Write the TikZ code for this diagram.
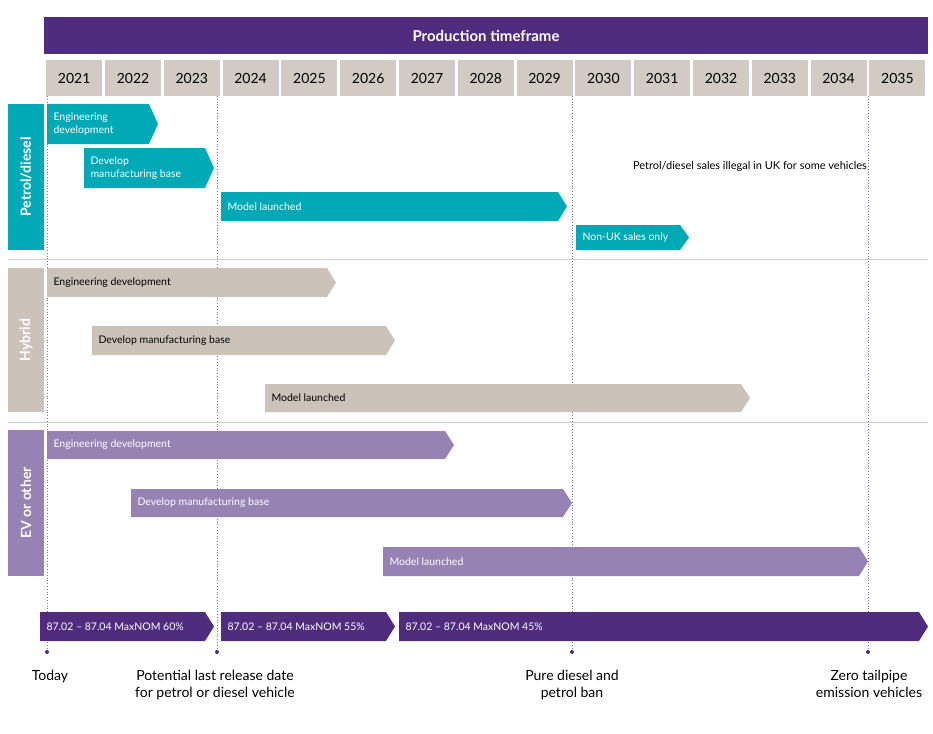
\documentclass[tikz,border=0pt]{standalone}
\usepackage{fontspec}
\setmainfont{Lato}
\definecolor{dpurp}{HTML}{4F2C7E}
\definecolor{teal}{HTML}{00A9B5}
\definecolor{warm}{HTML}{CBC3BA}
\definecolor{lav}{HTML}{9683B3}
\definecolor{yr}{HTML}{D2CBC4}
\newcommand\tlbar[8]{%
  \fill[#5] (#1,#3) -- (#2-9,#3) -- (#2,{(#3+#4)/2}) -- (#2-9,#4) -- (#1,#4) -- cycle;
  \node[small,text=#7,anchor=west,align=left] (#8) at (#1+3,{(#3+#4)/2}) {#6};}
\begin{document}
\begin{tikzpicture}[x=1pt,y=-1pt,
  small/.style={font=\fontsize{10.5}{12.5}\selectfont},
  yrbox/.style={fill=yr,minimum width=56pt,minimum height=36pt,anchor=north west,inner sep=0pt,font=\fontsize{14}{16}\selectfont},
  rowlab/.style={rotate=90,text=white,font=\fontsize{14}{16}\selectfont\bfseries},
  bot/.style={align=center,font=\fontsize{14}{17}\selectfont},
  dl/.style={dotted,dpurp!70,line width=0.8pt}]
\useasboundingbox (0,0) rectangle (933,733);
\fill[dpurp] (44,17) rectangle (928,54);
\node[text=white,font=\fontsize{15}{17}\selectfont\bfseries] (hdr) at (486,36) {Production timeframe};
\foreach \y [count=\i from 0] in {2021,...,2035}
  \node[yrbox] (y\y) at ({46+58.8*\i},60) {\y};
% row labels
\fill[teal] (8,104) rectangle (44,250);
\node[rowlab] (rl1) at (26,177) {Petrol/diesel};
\fill[warm] (8,268) rectangle (44,412);
\node[rowlab] (rl2) at (26,340) {Hybrid};
\fill[lav] (8,430) rectangle (44,576);
\node[rowlab] (rl3) at (26,503) {EV or other};
\draw[black!20,line width=0.8pt] (8,259) -- (928,259) (8,422) -- (928,422);
% dotted lines
\foreach \x/\n in {47/a,217/b,572/c,868/d}{
  \draw[dl] (\x,96) -- (\x,652);
  \fill[dpurp] (\x,652) circle (2pt);
  \coordinate (p\n) at (\x,652);}
% petrol
\tlbar{47}{158}{104}{144}{teal}{Engineering\\development}{white}{pe}
\tlbar{84}{214}{148}{188}{teal}{Develop\\manufacturing base}{white}{pm}
\tlbar{221}{567}{192}{221}{teal}{Model launched}{white}{pl}
\tlbar{576}{689}{225}{250}{teal}{Non-UK sales only}{white}{pn}
\node[small,font=\fontsize{11}{13}\selectfont] (ill) at (750,166) {Petrol/diesel sales illegal in UK for some vehicles};
% hybrid
\tlbar{47}{336}{268}{297}{warm}{Engineering development}{black}{he}
\tlbar{92}{395}{326}{355}{warm}{Develop manufacturing base}{black}{hm}
\tlbar{265}{750}{384}{412}{warm}{Model launched}{black}{hl}
% ev
\tlbar{47}{454}{431}{459}{lav}{Engineering development}{white}{ee}
\tlbar{131}{572}{489}{517}{lav}{Develop manufacturing base}{white}{em}
\tlbar{383}{868}{547}{576}{lav}{Model launched}{white}{el}
% bottom
\tlbar{40}{214}{612}{641}{dpurp}{87.02 – 87.04 MaxNOM 60\%}{white}{b1}
\tlbar{221}{395}{612}{641}{dpurp}{87.02 – 87.04 MaxNOM 55\%}{white}{b2}
\tlbar{399}{928}{612}{641}{dpurp}{87.02 – 87.04 MaxNOM 45\%}{white}{b3}
\node[bot] (t1) at (50,677) {Today};
\node[bot,anchor=north] (t2) at (215,667) {Potential last release date\\for petrol or diesel vehicle};
\node[bot,anchor=north] (t3) at (572,667) {Pure diesel and\\petrol ban};
\node[bot,anchor=north] (t4) at (869,667) {Zero tailpipe\\emission vehicles};
\end{tikzpicture}
\end{document}
